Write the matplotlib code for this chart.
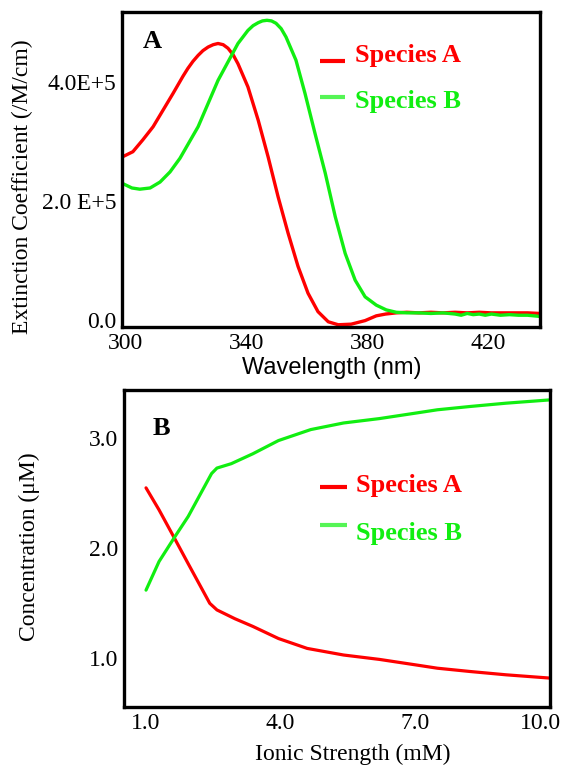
import matplotlib
matplotlib.use("Agg")
import matplotlib.pyplot as plt
from matplotlib.transforms import ScaledTranslation

# ---- Panel A: extinction spectra (values in units of 1E+5 /M/cm) ----
wl_a = [298.7, 302.3, 305.6, 309.0, 312.3, 315.6, 318.9, 320.5, 322.2, 323.9,
        325.5, 327.2, 328.9, 330.5, 332.2, 333.8, 335.5, 337.1, 340.4, 343.8,
        347.1, 350.4, 353.7, 357.0, 360.3, 363.6, 367.0, 370.3, 374.6, 379.2,
        382.9, 386.0, 389.5, 393.0, 397.0, 401.0, 405.0, 409.0, 413.0, 417.0,
        421.0, 425.0, 429.0, 433.0, 437.1]
eps_a = [2.74, 2.83, 3.03, 3.25, 3.53, 3.81, 4.10, 4.23, 4.35, 4.45,
         4.53, 4.59, 4.63, 4.65, 4.63, 4.57, 4.46, 4.31, 3.92, 3.36,
         2.74, 2.07, 1.46, 0.90, 0.45, 0.14, -0.03, -0.08, -0.07, -0.01,
         0.07, 0.10, 0.12, 0.13, 0.12, 0.13, 0.12, 0.13, 0.12, 0.13,
         0.12, 0.12, 0.12, 0.12, 0.11]

wl_b = [298.7, 302.0, 304.6, 308.0, 311.3, 314.6, 317.9, 320.5, 323.9, 327.2,
        330.5, 333.8, 337.1, 340.4, 342.1, 343.8, 345.2, 346.7, 348.2, 349.7,
        351.4, 353.0, 356.3, 359.3, 362.6, 366.0, 369.3, 372.6, 375.9, 379.2,
        382.9, 386.2, 389.5, 393.0, 397.0, 401.0, 405.0, 409.0, 411.0, 413.0,
        415.0, 417.0, 419.0, 421.0, 424.0, 427.0, 430.0, 433.0, 437.1]
eps_b = [2.30, 2.22, 2.20, 2.22, 2.32, 2.49, 2.72, 2.95, 3.25, 3.64,
         4.03, 4.34, 4.65, 4.87, 4.95, 5.00, 5.03, 5.04, 5.03, 4.99,
         4.90, 4.76, 4.37, 3.81, 3.14, 2.47, 1.74, 1.12, 0.67, 0.39,
         0.25, 0.17, 0.13, 0.12, 0.12, 0.11, 0.12, 0.10, 0.08, 0.11,
         0.09, 0.10, 0.08, 0.10, 0.08, 0.09, 0.08, 0.08, 0.06]

wl_ticks = [300, 340, 380, 420]
eps_ticks = [0, 2, 4]
eps_ticklabels = ["0.0", "2.0 E+5", "4.0E+5"]

# ---- Panel B: concentration vs ionic strength ----
ionic = [1.0, 1.29, 1.65, 1.94, 2.18, 2.42, 2.58, 2.98, 3.38, 3.95,
         4.59, 5.40, 6.20, 7.01, 7.49, 8.22, 9.02, 10.0]
conc_a = [2.55, 2.35, 2.08, 1.86, 1.68, 1.50, 1.44, 1.36, 1.29, 1.18,
          1.09, 1.03, 0.99, 0.94, 0.91, 0.88, 0.85, 0.82]
ionic_b = [1.0, 1.29, 1.65, 1.94, 2.22, 2.46, 2.58, 2.90, 3.38, 3.95,
           4.67, 5.40, 6.20, 7.01, 7.49, 8.22, 9.02, 10.0]
conc_b = [1.62, 1.88, 2.11, 2.29, 2.50, 2.68, 2.73, 2.77, 2.86, 2.98,
          3.08, 3.14, 3.18, 3.23, 3.26, 3.29, 3.32, 3.35]

ionic_ticks = [1.0, 4.0, 7.0, 10.0]
conc_ticks = [1.0, 2.0, 3.0]

series_names = ["Species A", "Species B"]

RED = "#ff0000"
GREEN = "#11ee11"
GREEN_KEY = "#55f555"
SERIF = ["Liberation Serif", "DejaVu Serif"]
SANS = ["Liberation Sans", "DejaVu Sans"]

fig = plt.figure(figsize=(5.64, 7.68), dpi=100)
ax1 = fig.add_axes([0.2163, 0.5742, 0.7411, 0.4102])
ax2 = fig.add_axes([0.2199, 0.0794, 0.7553, 0.4128])

LINE_KW = dict(solid_joinstyle="round", solid_capstyle="round")


def style_axes(ax):
    for s in ax.spines.values():
        s.set_linewidth(2.4)
        s.set_color("black")
    ax.tick_params(length=0, labelsize=17, pad=4)
    for lbl in ax.get_xticklabels() + ax.get_yticklabels():
        lbl.set_family(SERIF)


def draw_key(ax, x0, x1, ys_line, x_text, ys_text, fs=19):
    colors = [RED, GREEN]
    keycolors = [RED, GREEN_KEY]
    for name, c, kc, yl, yt in zip(series_names, colors, keycolors, ys_line, ys_text):
        ax.plot([x0, x1], [yl, yl], color=kc, lw=3.0, transform=ax.transAxes,
                solid_capstyle="butt", clip_on=False)
        ax.text(x_text, yt, name, color=c, fontsize=fs, fontweight="bold",
                family=SERIF, transform=ax.transAxes, ha="left", va="baseline")


# Panel A
ax1.plot(wl_a, eps_a, color=RED, lw=2.4, **LINE_KW)
ax1.plot(wl_b, eps_b, color=GREEN, lw=2.4, **LINE_KW)
ax1.set_xlim(298.7, 437.1)
ax1.set_ylim(-0.118, 5.18)
ax1.set_xticks(wl_ticks)
ax1.set_xticklabels([str(t) for t in wl_ticks])
ax1.set_yticks(eps_ticks)
ax1.set_yticklabels(eps_ticklabels)
style_axes(ax1)
ax1.set_xlabel("Wavelength (nm)", family=SANS, fontsize=17, va="center")
ax1.xaxis.set_label_coords(0.502, -0.130)
ax1.set_ylabel("Extinction Coefficient (/M/cm)", family=SERIF, fontsize=17,
               va="center")
ax1.yaxis.set_label_coords(-0.237, 0.444)
ax1.text(0.072, 0.905, "A", transform=ax1.transAxes, ha="center", va="center",
         fontsize=19, fontweight="bold", family=SERIF)
draw_key(ax1, 0.474, 0.533, [0.844, 0.730], 0.557, [0.841, 0.695])

# Panel B
ax2.plot(ionic, conc_a, color=RED, lw=2.3, **LINE_KW)
ax2.plot(ionic_b, conc_b, color=GREEN, lw=2.3, **LINE_KW)
ax2.set_xlim(0.51, 10.0)
ax2.set_ylim(0.557, 3.44)
ax2.set_xticks(ionic_ticks)
ax2.set_xticklabels([f"{t:.1f}" for t in ionic_ticks])
ax2.set_yticks(conc_ticks)
ax2.set_yticklabels([f"{t:.1f}" for t in conc_ticks])
style_axes(ax2)
last = ax2.xaxis.get_major_ticks()[-1].label1
last.set_transform(last.get_transform() + ScaledTranslation(-0.10, 0, fig.dpi_scale_trans))
ax2.set_xlabel("Ionic Strength (mM)", family=SERIF, fontsize=17, va="center")
ax2.xaxis.set_label_coords(0.538, -0.151)
ax2.set_ylabel("Concentration (\u03bcM)", family=SERIF, fontsize=17, va="center")
ax2.yaxis.set_label_coords(-0.221, 0.505)
ax2.text(0.087, 0.877, "B", transform=ax2.transAxes, ha="center", va="center",
         fontsize=19, fontweight="bold", family=SERIF)
draw_key(ax2, 0.460, 0.523, [0.694, 0.574], 0.545, [0.678, 0.527])

fig.savefig("out.png", dpi=100)
